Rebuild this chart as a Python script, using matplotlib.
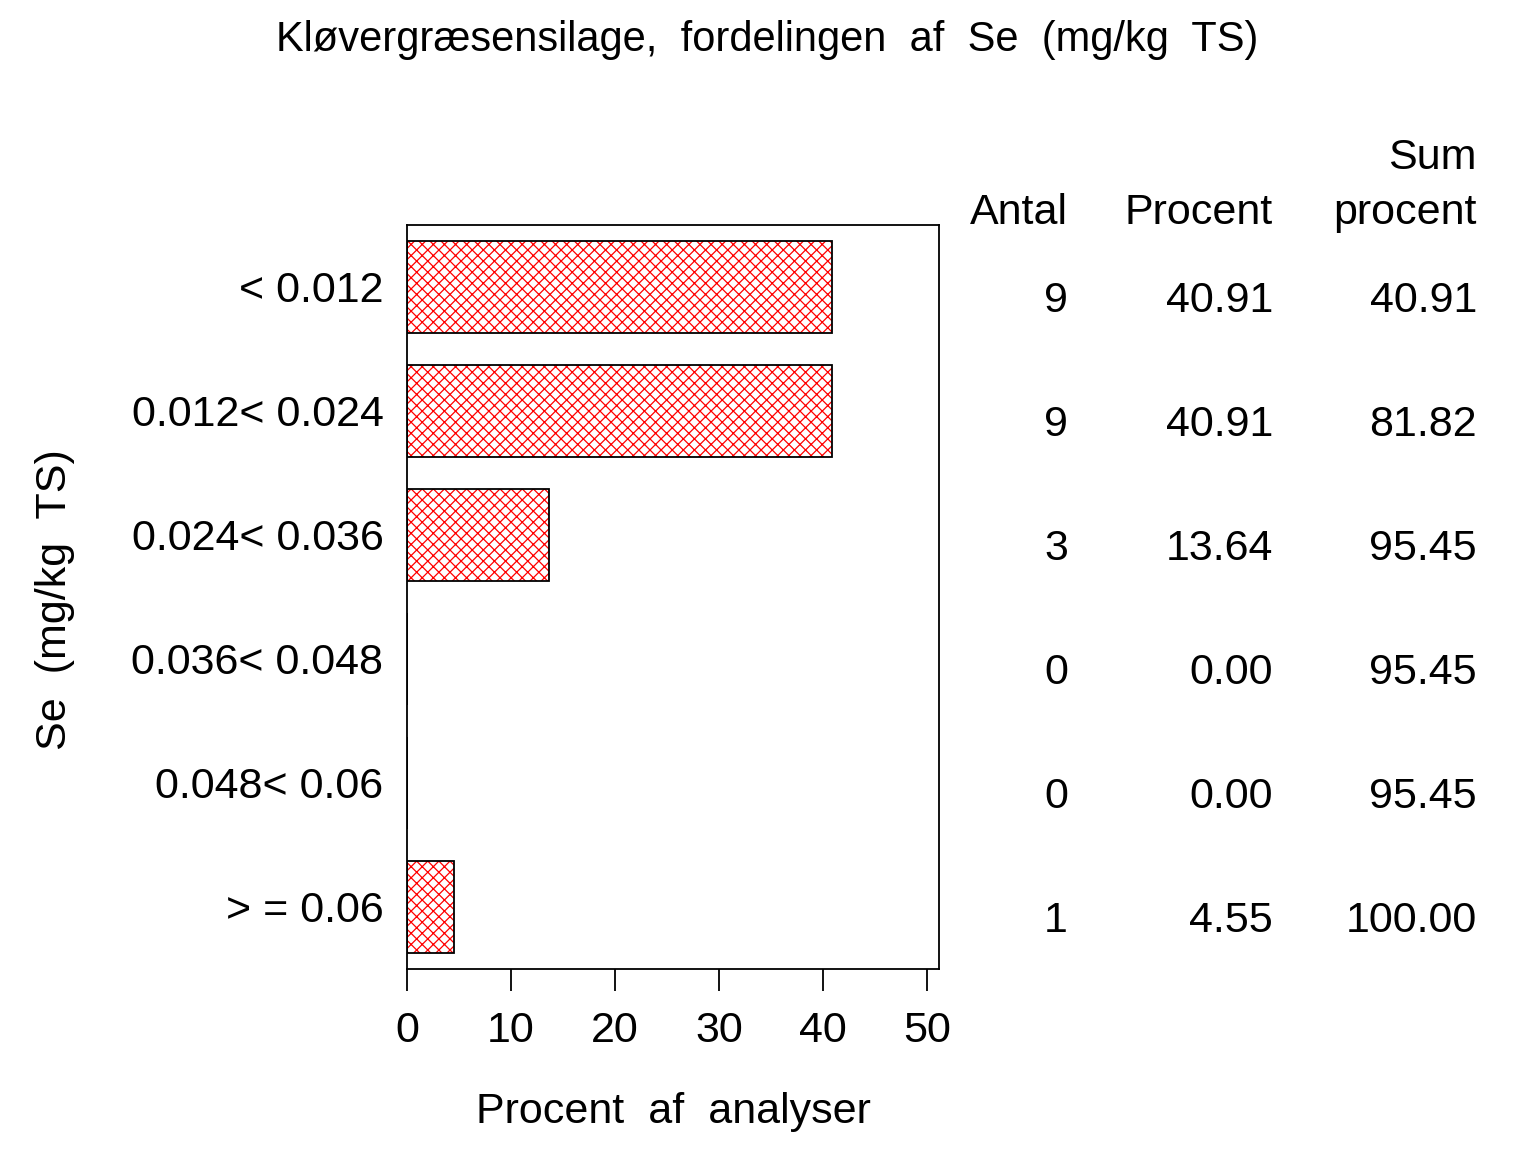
import numpy as np
import matplotlib
matplotlib.use("Agg")
import matplotlib.pyplot as plt
import matplotlib.transforms as mtransforms

# DATA
categories = ["< 0.012", "0.012< 0.024", "0.024< 0.036",
              "0.036< 0.048", "0.048< 0.06", "> = 0.06"]
antal = [9, 9, 3, 0, 0, 1]
procent = [40.91, 40.91, 13.64, 0.00, 0.00, 4.55]
sum_procent = [40.91, 81.82, 95.45, 95.45, 95.45, 100.00]
xticks = [0, 10, 20, 30, 40, 50]

plt.rcParams['font.family'] = ['Liberation Sans', 'DejaVu Sans']
plt.rcParams['hatch.linewidth'] = 0.9
FS = 31

fig = plt.figure(figsize=(15.36, 11.52), dpi=100)
ax = fig.add_axes([407 / 1536, 1 - 969 / 1152, 532 / 1536, 744 / 1152])

ypos = np.arange(len(categories))
# hatch layer in red, outline layer in black
ax.barh(ypos, procent, height=0.74, color='white', edgecolor='red',
        hatch='xxx', linewidth=0)
ax.barh(ypos, procent, height=0.74, fill=False, edgecolor='black',
        linewidth=1.3)

ax.set_ylim(len(categories) - 0.5, -0.5)
ax.set_xlim(0, 51.15)
ax.set_yticks(ypos)
ax.set_yticklabels(categories, fontsize=FS)
ax.tick_params(axis='y', length=0, pad=17)
ax.set_xticks(xticks)
ax.set_xticklabels([str(t) for t in xticks], fontsize=FS)
ax.tick_params(axis='x', length=16, width=1.3, pad=14, direction='out')
for s in ax.spines.values():
    s.set_linewidth(1.3)

ax.set_xlabel("Procent  af  analyser", fontsize=FS, labelpad=30)
fig.text(55 / 1536, 1 - 600 / 1152, "Se  (mg/kg  TS)", fontsize=FS,
         rotation=90, ha='center', va='center')

fig.suptitle("Kløvergræsensilage,  fordelingen  af  Se  (mg/kg  TS)",
             fontsize=30, x=767 / 1536, y=1 - 40 / 1152, va='center')

# table on the right, rows sit slightly below the bar centres
trans = mtransforms.blended_transform_factory(fig.transFigure, ax.transData)
col_x = [1068 / 1536, 1273 / 1536, 1477 / 1536]
for i in ypos:
    y = i + 0.11
    fig.text(col_x[0], y, str(antal[i]), transform=trans, fontsize=FS,
             ha='right', va='center')
    fig.text(col_x[1], y, f"{procent[i]:.2f}", transform=trans, fontsize=FS,
             ha='right', va='center')
    fig.text(col_x[2], y, f"{sum_procent[i]:.2f}", transform=trans,
             fontsize=FS, ha='right', va='center')

fig.text(col_x[0], 1 - 213 / 1152, "Antal", fontsize=FS, ha='right', va='center')
fig.text(col_x[1], 1 - 213 / 1152, "Procent", fontsize=FS, ha='right', va='center')
fig.text(col_x[2], 1 - 158 / 1152, "Sum", fontsize=FS, ha='right', va='center')
fig.text(col_x[2], 1 - 213 / 1152, "procent", fontsize=FS, ha='right', va='center')

fig.savefig("out.png", dpi=100, facecolor='white')
